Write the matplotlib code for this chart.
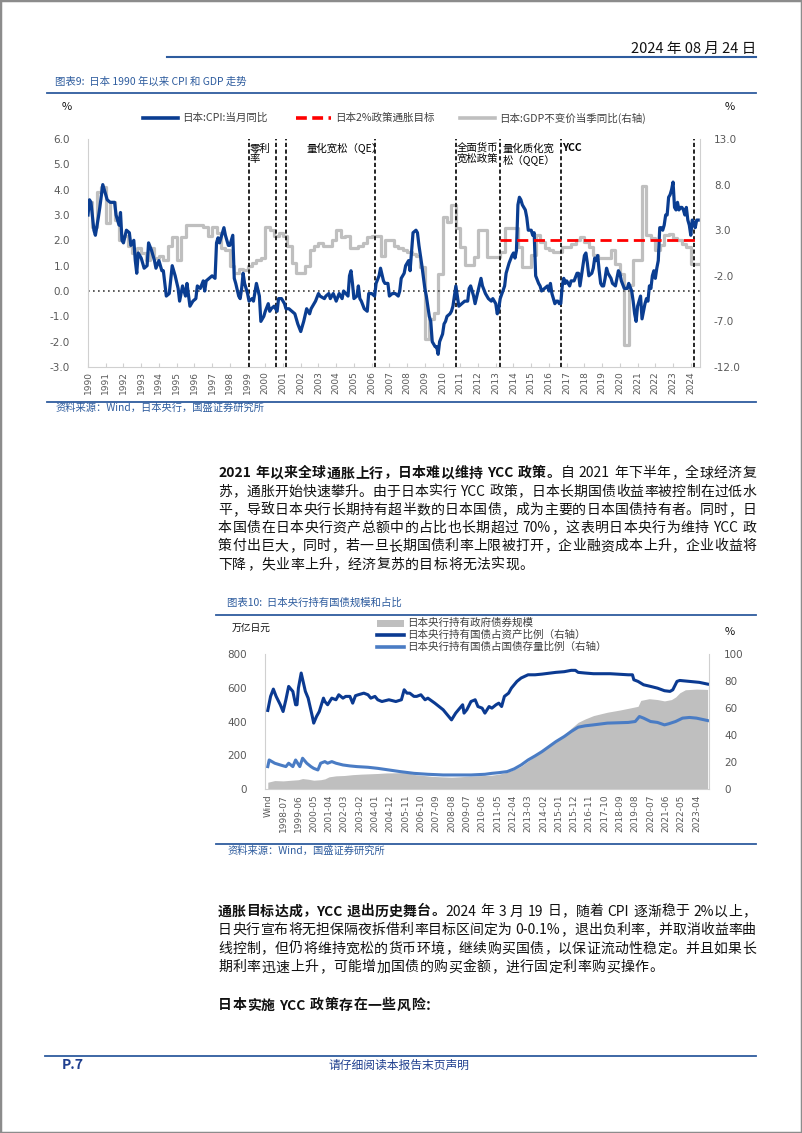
import matplotlib
matplotlib.use("Agg")
import matplotlib.pyplot as plt
from matplotlib.lines import Line2D
from matplotlib.patches import Rectangle

plt.rcParams['font.family'] = ['Noto Sans CJK SC', 'DejaVu Sans']

# ---------------- chart 9 data: Japan CPI (monthly, left) and GDP (quarterly, right)
cpi_months = [
    "1990-01", "1990-02", "1990-03", "1990-05", "1990-06", "1990-08", "1990-09", "1990-11", "1990-12",
    "1991-02", "1991-04", "1991-07", "1991-08", "1991-10", "1991-11", "1991-12",
    "1992-01", "1992-03", "1992-05", "1992-06", "1992-08", "1992-09", "1992-10", "1992-11",
    "1993-01", "1993-03", "1993-05", "1993-06", "1993-08", "1993-10", "1993-11",
    "1994-01", "1994-03", "1994-04", "1994-06", "1994-08", "1994-10", "1994-12",
    "1995-02", "1995-03", "1995-05", "1995-07", "1995-08", "1995-10", "1995-12",
    "1996-02", "1996-03", "1996-05", "1996-07", "1996-08", "1996-09", "1996-11",
    "1997-01", "1997-03", "1997-04", "1997-05", "1997-06", "1997-08", "1997-09", "1997-10", "1997-12",
    "1998-01", "1998-03", "1998-04", "1998-05", "1998-07", "1998-08", "1998-09", "1998-10", "1998-11",
    "1999-01", "1999-02", "1999-04", "1999-05", "1999-07", "1999-09", "1999-10", "1999-12",
    "2000-01", "2000-03", "2000-04", "2000-05", "2000-07", "2000-09", "2000-10", "2000-12",
    "2001-02", "2001-03", "2001-05", "2001-07", "2001-09", "2001-11",
    "2002-01", "2002-03", "2002-05", "2002-07", "2002-08", "2002-11",
    "2003-01", "2003-02", "2003-05", "2003-06", "2003-08", "2003-09", "2003-11",
    "2004-01", "2004-03", "2004-05", "2004-06", "2004-09", "2004-10", "2004-11", "2004-12",
    "2005-01", "2005-03", "2005-04", "2005-05", "2005-06", "2005-08", "2005-10", "2005-11",
    "2006-01", "2006-03", "2006-04", "2006-06", "2006-07", "2006-09", "2006-10", "2006-12",
    "2007-01", "2007-03", "2007-05", "2007-07", "2007-08", "2007-09", "2007-11", "2007-12",
    "2008-02", "2008-03", "2008-05", "2008-07", "2008-08", "2008-09", "2008-11",
    "2009-01", "2009-02", "2009-04", "2009-05", "2009-06", "2009-08", "2009-09", "2009-10", "2009-11",
    "2010-01", "2010-02", "2010-03", "2010-04", "2010-06", "2010-07", "2010-08", "2010-10", "2010-12",
    "2011-02", "2011-04", "2011-06", "2011-07", "2011-08", "2011-10", "2011-11",
    "2012-01", "2012-03", "2012-04", "2012-06", "2012-08", "2012-10", "2012-11",
    "2013-01", "2013-02", "2013-03", "2013-04", "2013-07", "2013-08", "2013-10", "2013-12",
    "2014-01", "2014-02", "2014-03", "2014-04", "2014-05", "2014-06", "2014-07", "2014-08",
    "2014-09", "2014-10", "2014-11", "2014-12",
    "2015-01", "2015-02", "2015-03", "2015-04", "2015-06", "2015-07", "2015-08", "2015-10", "2015-12",
    "2016-01", "2016-02", "2016-03", "2016-04", "2016-05", "2016-06", "2016-07", "2016-08", "2016-09",
    "2016-10", "2016-11", "2016-12",
    "2017-01", "2017-02", "2017-03", "2017-04", "2017-06", "2017-08", "2017-09", "2017-10", "2017-11", "2017-12",
    "2018-01", "2018-02", "2018-03", "2018-04", "2018-06", "2018-07", "2018-08", "2018-09", "2018-10",
    "2018-11", "2018-12",
    "2019-01", "2019-02", "2019-03", "2019-04", "2019-05", "2019-07", "2019-08", "2019-10", "2019-11", "2019-12",
    "2020-01", "2020-02", "2020-04", "2020-06", "2020-07", "2020-09", "2020-10", "2020-11", "2020-12",
    "2021-01", "2021-02", "2021-03", "2021-04", "2021-05", "2021-06", "2021-07", "2021-08", "2021-09",
    "2021-10", "2021-11", "2021-12",
    "2022-01", "2022-02", "2022-03", "2022-04", "2022-05", "2022-06", "2022-07", "2022-08", "2022-09",
    "2022-10", "2022-11", "2022-12",
    "2023-01", "2023-02", "2023-03", "2023-04", "2023-05", "2023-06", "2023-07", "2023-08", "2023-09",
    "2023-10", "2023-11", "2023-12",
    "2024-01", "2024-02", "2024-03", "2024-04", "2024-05", "2024-06",
]
cpi_values = [
    3.0, 3.6, 3.5, 2.4, 2.2, 2.9, 3.3, 4.2, 4.0,
    3.6, 3.5, 3.5, 3.0, 2.6, 3.1, 2.0,
    1.9, 2.4, 2.3, 1.8, 2.0, 1.2, 0.7, 1.5,
    1.3, 0.9, 1.0, 1.9, 1.6, 1.2, 0.9,
    1.2, 0.8, 0.8, -0.2, -0.1, 1.0, 0.6,
    0.1, -0.4, 0.2, -0.2, 0.3, -0.6, -0.4,
    -0.3, 0.2, 0.1, 0.4, 0.0, 0.4, 0.5,
    0.6, 0.5, 1.9, 2.1, 1.9, 2.3, 2.5, 2.2, 1.8,
    1.8, 2.2, 0.5, 0.3, -0.2, -0.3, 0.1, 0.7, 0.3,
    -0.1, -0.4, -0.3, -0.4, 0.3, -0.2, -1.2, -1.0,
    -0.8, -0.5, -0.8, -0.7, -0.6, -0.8, -0.3, -0.3,
    -0.5, -0.7, -0.7, -0.8, -0.9, -1.3,
    -1.6, -1.2, -0.7, -0.9, -0.7, -0.4,
    -0.1, -0.2, -0.3, -0.2, -0.1, -0.3, -0.1,
    -0.4, -0.1, -0.3, 0.0, -0.2, 0.6, 0.8, 0.3,
    -0.3, -0.2, 0.2, -0.3, -0.4, -0.7, -0.8, -0.1,
    -0.1, -0.2, 0.3, 0.6, 0.9, 0.4, 0.3, 0.3,
    -0.2, -0.1, -0.1, -0.2, 0.0, 0.5, 0.7, 1.0,
    1.2, 0.8, 2.3, 2.4, 2.3, 1.8, 1.0,
    0.1, -0.2, -1.0, -1.2, -2.0, -2.2, -2.2, -2.5, -2.0,
    -1.7, -1.3, -1.2, -1.0, -0.9, -0.8, -0.6, 0.2, -0.6,
    -0.5, -0.4, -0.4, 0.1, 0.2, -0.2, -0.5,
    0.0, 0.5, 0.2, -0.1, -0.3, -0.4, -0.3,
    -0.5, -0.9, -0.7, -0.3, 0.2, 0.7, 1.1, 1.4,
    1.5, 1.3, 1.6, 3.4, 3.7, 3.6, 3.4, 3.3,
    3.2, 2.9, 2.4, 2.4,
    2.4, 2.2, 2.3, 0.6, 0.3, 0.2, 0.0, 0.1, 0.2,
    0.0, 0.3, -0.1, -0.3, -0.5, -0.4, -0.4, -0.5, -0.5,
    0.2, 0.5, 0.3,
    0.4, 0.3, 0.2, 0.4, 0.4, 0.7, 0.7, 0.2, 0.6, 1.0,
    1.4, 1.5, 1.1, 0.6, 0.7, 0.9, 1.3, 1.2, 1.4,
    0.8, 0.3,
    0.2, 0.2, 0.5, 0.9, 0.7, 0.5, 0.3, 0.2, 0.5, 0.8,
    0.7, 0.4, 0.1, 0.1, 0.3, 0.0, -0.4, -0.9, -1.2,
    -0.6, -0.4, -0.2, -1.1, -0.8, -0.5, -0.3, -0.4, 0.2,
    0.1, 0.6, 0.8,
    0.5, 0.9, 1.2, 2.5, 2.5, 2.4, 2.6, 3.0, 3.0,
    3.7, 3.8, 4.0,
    4.3, 3.3, 3.2, 3.5, 3.2, 3.3, 3.3, 3.2, 3.0,
    3.3, 2.8, 2.6,
    2.2, 2.8, 2.7, 2.5, 2.8, 2.8,
]

gdp_start_year = 1990
gdp_values = [
    6.1, 3.3, 7.2, 7.7,   3.8, 6.1, 4.1, 1.9,   2.4, 1.3, 0.5, 1.1,   0.5, -0.3, 1.1, -0.1,
    0.2, -0.3, 1.3, 2.2,  -0.3, 2.2, 3.6, 3.6,  3.6, 3.6, 3.3, 2.4,   3.3, 2.7, 1.1, 0.8,
    -0.9, -1.7, -1.2, -1.4,  -0.9, -0.6, -0.3, -0.1,  3.3, 3.0, 2.4, 2.7,  2.4, 1.3, -0.6, -1.7,
    -1.7, -0.9, 0.8, 1.3,  1.6, 1.3, 1.3, 1.9,  3.0, 2.2, 2.4, 1.1,  1.1, 1.3, 1.6, 2.2,
    2.4, 2.4, 0.2, 1.9,   1.9, 1.3, 1.0, 0.8,  0.6, 0.4, 0.2, -1.0,  -8.9, -6.7, -6.1, -1.8,
    4.5, 3.9, 5.8, 3.2,   1.2, -0.8, -0.8, 0.1,  3.0, 3.0, 0.1, 0.1,  0.1, 0.6, 3.2, 3.2,
    3.2, 1.2, -1.0, -1.0,  0.3, 2.5, 1.7, 1.0,  0.8, 0.6, 0.6, 1.2,  1.2, 1.5, 1.9, 2.3,
    1.7, 1.2, 0.3, -0.1,  -0.1, -0.1, 0.8, -0.7,  -1.8, -9.6, -3.0, -0.3,  -0.3, 7.9, 2.5, 2.1,
    0.8, 1.4, 2.5, 2.6,   2.1, 1.9, 1.5, 1.2,  -0.7, -0.7,
]

policy_months = ["1999-02", "2000-08", "2001-03", "2006-03", "2010-10", "2013-04", "2016-09", "2024-03"]
target_start = "2013-04"
target_value = 2.0
year_labels = [str(y) for y in range(1990, 2025)]

# ---------------- chart 10 data: BOJ JGB holdings
bond_months = [
    "1997-08", "1998-01", "1998-07", "1999-01", "1999-06", "1999-09", "2000-01", "2000-05", "2000-10",
    "2001-01", "2001-04", "2001-09", "2002-03", "2002-09", "2003-03", "2003-09", "2004-03", "2004-09",
    "2005-03", "2005-09", "2006-01", "2006-06", "2006-12", "2007-06", "2008-01", "2008-08", "2009-01",
    "2009-07", "2010-01", "2010-07", "2011-01", "2011-06", "2011-12", "2012-05", "2012-10", "2013-03",
    "2013-08", "2014-01", "2014-06", "2014-11", "2015-05", "2015-10", "2016-03", "2016-08", "2017-02",
    "2017-12", "2018-09", "2019-03", "2019-10", "2019-12", "2020-06", "2020-12", "2021-05", "2021-10",
    "2022-01", "2022-04", "2022-08", "2023-04", "2023-12",
]
bond_values = [
    40, 50, 48, 52, 55, 62, 58, 52, 55,
    60, 72, 78, 80, 85, 88, 90, 92, 95,
    96, 97, 95, 85, 80, 75, 72, 70, 72,
    75, 78, 80, 82, 88, 100, 115, 135, 165,
    195, 225, 250, 280, 320, 360, 395, 415, 435,
    455, 468, 478, 490, 525, 535, 530, 522, 530,
    545, 570, 588, 592, 590,
]

asset_months = [
    "1997-08", "1997-10", "1997-12", "1998-02", "1998-05", "1998-07", "1998-09", "1998-11", "1999-01",
    "1999-02", "1999-04", "1999-05", "1999-06", "1999-08", "1999-11", "2000-01", "2000-04", "2000-05",
    "2000-07", "2000-09", "2000-12", "2001-01", "2001-03", "2001-06", "2001-09", "2001-11", "2002-02",
    "2002-04", "2002-07", "2002-09", "2002-11", "2003-01", "2003-05", "2003-08", "2003-10", "2004-01",
    "2004-03", "2004-06", "2004-11", "2005-04", "2005-08", "2005-10", "2005-12", "2006-02", "2006-05",
    "2006-07", "2006-10", "2007-01", "2007-03", "2007-08", "2008-02", "2008-06", "2008-08", "2008-11",
    "2009-01", "2009-04", "2009-05", "2009-07", "2009-10", "2010-01", "2010-03", "2010-06", "2010-08",
    "2010-11", "2011-01", "2011-04", "2011-06", "2011-08", "2011-10", "2012-01", "2012-03", "2012-07",
    "2012-10", "2013-03", "2013-08", "2014-01", "2014-11", "2015-05", "2015-10", "2016-01", "2016-03",
    "2016-08", "2017-02", "2018-02", "2019-03", "2019-06", "2019-07", "2019-10", "2020-02", "2020-07",
    "2020-12", "2021-05", "2021-09", "2021-11", "2022-02", "2022-04", "2022-11", "2023-06", "2023-12",
]
asset_values = [
    58.2, 68.6, 74.0, 68.6, 62.4, 57.4, 66.1, 76.0, 73.5,
    72.3, 62.4, 62.4, 74.7, 85.9, 72.3, 67.3, 53.7, 48.8,
    53.7, 57.4, 67.3, 64.8, 62.4, 67.3, 66.1, 69.8, 67.3,
    68.6, 68.6, 63.6, 69.1, 69.8, 71.0, 69.8, 67.3, 68.6,
    66.1, 64.8, 66.1, 64.8, 66.1, 73.5, 71.0, 71.0, 68.6,
    68.6, 69.8, 66.1, 67.3, 63.6, 58.7, 53.7, 51.2, 56.2,
    58.7, 62.4, 56.2, 58.7, 64.8, 66.1, 61.1, 59.9, 56.2,
    61.1, 59.9, 62.4, 63.6, 61.1, 68.6, 71.0, 74.7, 79.7,
    82.2, 84.6, 84.6, 85.1, 86.4, 86.9, 87.9, 87.9, 86.4,
    85.9, 85.4, 85.4, 84.6, 84.6, 80.9, 79.7, 77.2, 76.0,
    74.7, 72.8, 72.3, 73.5, 79.7, 80.4, 79.7, 79.0, 77.7,
]

stock_months = [
    "1997-08", "1997-09", "1998-01", "1998-05", "1998-09", "1998-11", "1999-02", "1999-04", "1999-07",
    "1999-09", "1999-12", "2000-03", "2000-05", "2000-08", "2000-10", "2001-01", "2001-03", "2001-06",
    "2001-09", "2002-02", "2002-07", "2002-12", "2003-08", "2004-03", "2004-11", "2005-07", "2006-05",
    "2007-03", "2008-02", "2008-12", "2009-10", "2010-08", "2011-01", "2011-06", "2011-12", "2012-05",
    "2012-10", "2013-03", "2013-08", "2014-01", "2014-06", "2014-11", "2015-05", "2015-10", "2016-03",
    "2016-08", "2017-02", "2017-12", "2019-03", "2019-08", "2019-11", "2020-02", "2020-07", "2020-12",
    "2021-05", "2021-08", "2022-01", "2022-06", "2022-11", "2023-04", "2023-12",
]
stock_values = [
    16.6, 21.5, 19.1, 17.8, 16.6, 19.1, 16.6, 21.5, 16.6,
    22.8, 19.1, 16.6, 15.3, 14.1, 19.1, 20.3, 19.1, 20.3,
    19.1, 17.8, 17.1, 16.6, 16.1, 15.3, 14.1, 12.9, 11.6,
    10.9, 10.4, 10.4, 10.4, 10.9, 11.6, 12.1, 12.9, 14.9,
    17.8, 21.5, 24.5, 27.7, 31.4, 35.1, 38.9, 42.6, 45.8,
    46.8, 47.5, 48.8, 49.3, 50.0, 53.7, 52.5, 50.0, 49.3,
    47.5, 48.3, 50.0, 52.5, 53.0, 52.5, 50.7,
]

boj_start = "1997-08"
boj_tick_labels = [
    "Wind", "1998-07", "1999-06", "2000-05", "2001-04", "2002-03", "2003-02", "2004-01", "2004-12",
    "2005-11", "2006-10", "2007-09", "2008-08", "2009-07", "2010-06", "2011-05", "2012-04", "2013-03",
    "2014-02", "2015-01", "2015-12", "2016-11", "2017-10", "2018-09", "2019-08", "2020-07", "2021-06",
    "2022-05", "2023-04",
]

# ---------------- page text
para1 = [
    [("2021 年以来全球通胀上行，日本难以维持 YCC 政策。", "bold"), ("自 2021 年下半年，全球经济复", "normal")],
    [("苏，通胀开始快速攀升。由于日本实行 YCC 政策，日本长期国债收益率被控制在过低水", "normal")],
    [("平，导致日本央行长期持有超半数的日本国债，成为主要的日本国债持有者。同时，日", "normal")],
    [("本国债在日本央行资产总额中的占比也长期超过 70%，这表明日本央行为维持 YCC 政", "normal")],
    [("策付出巨大，同时，若一旦长期国债利率上限被打开，企业融资成本上升，企业收益将", "normal")],
    [("下降，失业率上升，经济复苏的目标将无法实现。", "normal")],
]
para3 = [
    [("通胀目标达成，YCC 退出历史舞台。", "bold"), ("2024 年 3 月 19 日，随着 CPI 逐渐稳于 2%以上，", "normal")],
    [("日央行宣布将无担保隔夜拆借利率目标区间定为 0-0.1%，退出负利率，并取消收益率曲", "normal")],
    [("线控制，但仍将维持宽松的货币环境，继续购买国债，以保证流动性稳定。并且如果长", "normal")],
    [("期利率迅速上升，可能增加国债的购买金额，进行固定利率购买操作。", "normal")],
]
para4 = [[("日本实施 YCC 政策存在一些风险：", "bold")]]

W, H = 802, 1133
BLUE = "#2E5C9E"
DARK = "#0A3D91"
GRID = "#D0D0D0"
TICK = "#595959"


def fx(x):
    return x / W


def fy(y):
    return 1 - y / H


def ym(s):
    y, m = s.split("-")
    return int(y) + (int(m) - 1) / 12


def midx(s):
    y, m = s.split("-")
    y0, m0 = boj_start.split("-")
    return (int(y) - int(y0)) * 12 + int(m) - int(m0)


fig = plt.figure(figsize=(W / 100, H / 100), dpi=100)


def hline(x0, x1, y, color=BLUE, lw=1.3):
    fig.add_artist(Line2D([fx(x0), fx(x1)], [fy(y), fy(y)], color=color, lw=lw))


def tokens_of(s):
    toks, buf, sp = [], "", False
    for ch in s:
        if ch == " " or ord(ch) > 0x2E80:
            if buf:
                toks.append([buf, sp])
                buf, sp = "", False
            if ch == " ":
                sp = True
            else:
                toks.append([ch, sp])
                sp = False
        else:
            buf += ch
    if buf:
        toks.append([buf, sp])
    return toks


def draw_line(segs, y, justify=True, x0=218, x1=756, size=10):
    items = []
    for s, wt in segs:
        for t, sp in tokens_of(s):
            items.append((t, sp, wt))
    texts = [fig.text(0, fy(y), t, fontsize=size, fontweight=wt, va="center_baseline", color="#111111")
             for t, sp, wt in items]
    r = fig.canvas.get_renderer()
    widths = [t.get_window_extent(r).width for t in texts]
    spw = size * 100 / 72 * 0.28
    base = sum(widths) + spw * sum(1 for it in items[1:] if it[1])
    gap = (x1 - x0 - base) / (len(items) - 1) if justify else 0.5
    x = x0
    for i, (t, w, it) in enumerate(zip(texts, widths, items)):
        if it[1] and i > 0:
            x += spw
        t.set_x(fx(x))
        x += w + gap


# ---------------- header
fig.text(fx(756), fy(49), "2024 年 08 月 24 日", fontsize=10.5, ha="right", va="center", color="#111111")
hline(167, 756, 57, lw=1.5)
fig.text(fx(55), fy(82), "图表9:  日本 1990 年以来 CPI 和 GDP 走势", fontsize=7.5, style="italic",
         color=BLUE, va="center")
hline(47, 756, 93)

# ---------------- chart 9
ax = fig.add_axes([fx(88), fy(367), (700 - 88) / W, (367 - 139) / H])
ax2 = ax.twinx()
ax.set_zorder(ax2.get_zorder() + 1)
ax.patch.set_visible(False)

gx = [gdp_start_year + i / 4 for i in range(len(gdp_values))] + [gdp_start_year + len(gdp_values) / 4]
ax2.step(gx, gdp_values + gdp_values[-1:], where="post", color="#BFBFBF", lw=2.3)
ax.plot([ym(m) for m in cpi_months], cpi_values, color=DARK, lw=2.3, zorder=5)
ax.axhline(0, color="#404040", lw=1.2, ls=(0, (1, 2)), zorder=2)
ax.plot([ym(target_start), ym(cpi_months[-1]) + 1 / 12], [target_value, target_value],
        color="#FF0000", lw=2, ls=(0, (4, 2)), zorder=6)
for m in policy_months:
    ax.axvline(ym(m), color="black", lw=1.2, ls=(0, (2.5, 1.5)), zorder=4)

ax.set_xlim(1990, 2024.52)
ax.set_ylim(-3, 6)
ax2.set_ylim(-12, 13)
ax.set_yticks(range(-3, 7))
ax.set_yticklabels([f"{v:.1f}" for v in range(-3, 7)])
ax2.set_yticks(range(-12, 14, 5))
ax2.set_yticklabels([f"{v:.1f}" for v in range(-12, 14, 5)])
ax.set_xticks(range(1990, 2025))
ax.set_xticklabels(year_labels, rotation=90)
ax.tick_params(axis="y", length=0, pad=13, labelsize=7.5, labelcolor=TICK)
ax2.tick_params(axis="y", length=0, pad=10, labelsize=7.5, labelcolor=TICK)
ax.tick_params(axis="x", length=3, direction="in", color=GRID, pad=3, labelsize=6.5, labelcolor=TICK)
for lab in ax.get_xticklabels() + ax.get_yticklabels() + ax2.get_yticklabels():
    lab.set_fontfamily("DejaVu Sans")
for a in (ax, ax2):
    for side in ("top", "left", "right", "bottom"):
        a.spines[side].set_visible(False)
ax.spines["left"].set_visible(True)
ax.spines["bottom"].set_visible(True)
ax2.spines["right"].set_visible(True)
ax.spines["left"].set_color(GRID)
ax.spines["bottom"].set_color(GRID)
ax2.spines["right"].set_color(GRID)

ann = dict(fontsize=7.5, color="black", va="top")
ax.text(ym("1999-02") + 0.05, 5.85, "零利\n率", linespacing=1.1, **ann)
ax.text(2002.35, 5.85, "量化宽松（QE）", **ann)
ax.text(ym("2010-10") + 0.05, 5.85, "全面货币\n宽松政策", linespacing=1.1, **ann)
ax.text(ym("2013-04") + 0.15, 5.85, "量化质化宽\n松（QQE）", linespacing=1.1, **ann)
ax.text(ym("2016-09") + 0.08, 5.85, "YCC", fontweight="bold", **ann)

# legend + unit labels
fig.text(fx(62), fy(107), "%", fontsize=8, va="center", color="#111111")
fig.text(fx(725), fy(107), "%", fontsize=8, va="center", color="#111111")
leg = [(143, 178, DARK, "-", "日本:CPI:当月同比"),
       (296, 331, "#FF0000", (0, (3, 1.5)), "日本2%政策通胀目标"),
       (460, 495, "#BFBFBF", "-", "日本:GDP不变价当季同比(右轴)")]
for x0, x1, c, ls, lab in leg:
    fig.add_artist(Line2D([fx(x0), fx(x1)], [fy(118), fy(118)], color=c, lw=2.6, ls=ls))
    fig.text(fx(x1 + 4), fy(118), lab, fontsize=7.6, va="center", color="#404040")

hline(47, 756, 402)
fig.text(fx(56), fy(408), "资料来源：Wind，日本央行，国盛证券研究所", fontsize=7.4, style="italic",
         color=BLUE, va="center")

# ---------------- paragraph 1
for i, line in enumerate(para1):
    draw_line(line, 472 + i * 18.2, justify=(i < len(para1) - 1))

# ---------------- chart 10
fig.text(fx(227), fy(603), "图表10:  日本央行持有国债规模和占比", fontsize=7.5, style="italic",
         color=BLUE, va="center")
hline(216, 756, 615)

bx = fig.add_axes([fx(265), fy(789), (709 - 265) / W, (789 - 654) / H])
bx2 = bx.twinx()
bx.fill_between([midx(m) for m in bond_months], 0, bond_values, color="#BFBFBF", lw=0)
bx2.plot([midx(m) for m in asset_months], asset_values, color="#0B3A91", lw=2.2)
bx2.plot([midx(m) for m in stock_months], stock_values, color="#4A7CC4", lw=2.2)
bx.set_xlim(-2, 317)
bx.set_ylim(0, 800)
bx2.set_ylim(0, 100)
bx.set_yticks(range(0, 801, 200))
bx2.set_yticks(range(0, 101, 20))
bx.set_xticks([i * 11 for i in range(len(boj_tick_labels))])
bx.set_xticklabels(boj_tick_labels, rotation=90)
bx.tick_params(axis="y", length=0, pad=13, labelsize=7.5, labelcolor=TICK)
bx2.tick_params(axis="y", length=0, pad=11, labelsize=7.5, labelcolor=TICK)
bx.tick_params(axis="x", length=0, pad=4, labelsize=6.5, labelcolor=TICK)
for lab in bx.get_xticklabels() + bx.get_yticklabels() + bx2.get_yticklabels():
    lab.set_fontfamily("DejaVu Sans")
for a in (bx, bx2):
    for side in ("top", "left", "right", "bottom"):
        a.spines[side].set_visible(False)
bx.spines["left"].set_visible(True)
bx.spines["bottom"].set_visible(True)
bx2.spines["right"].set_visible(True)
bx.spines["left"].set_color(GRID)
bx.spines["bottom"].set_color(GRID)
bx2.spines["right"].set_color(GRID)

fig.text(fx(232), fy(629), "万亿日元", fontsize=7, va="center", color="#111111")
fig.text(fx(725), fy(632), "%", fontsize=8, va="center", color="#111111")
fig.add_artist(Rectangle((fx(377), fy(627)), (404 - 377) / W, 7 / H, color="#BFBFBF", lw=0))
fig.text(fx(407), fy(623), "日本央行持有政府债券规模", fontsize=7.6, va="center", color="#404040")
fig.add_artist(Line2D([fx(377), fx(404)], [fy(635), fy(635)], color="#0B3A91", lw=2.6))
fig.text(fx(407), fy(635), "日本央行持有国债占资产比例（右轴）", fontsize=7.6, va="center", color="#404040")
fig.add_artist(Line2D([fx(377), fx(404)], [fy(647), fy(647)], color="#4A7CC4", lw=2.6))
fig.text(fx(407), fy(647), "日本央行持有国债占国债存量比例（右轴）", fontsize=7.6, va="center", color="#404040")

hline(216, 756, 844)
fig.text(fx(227), fy(851), "资料来源：Wind，国盛证券研究所", fontsize=7.4, style="italic",
         color=BLUE, va="center")

# ---------------- paragraphs 3 and 4
for i, line in enumerate(para3):
    draw_line(line, 910 + i * 18.6, justify=(i < len(para3) - 1))
draw_line(para4[0], 1004, justify=False)

# ---------------- footer and page frame
hline(45, 756, 1056)
fig.text(fx(62), fy(1065), "P.7", fontsize=10, fontweight="bold", style="italic", color="#1F3F8F", va="center")
fig.text(fx(399), fy(1065), "请仔细阅读本报告末页声明", fontsize=8.5, style="italic", color="#1F3F8F",
         ha="center", va="center")
fig.add_artist(Rectangle((0, 0), 1, 1, fill=False, ec="#8C8C8C", lw=2.5))

fig.savefig("out.png", dpi=100)
